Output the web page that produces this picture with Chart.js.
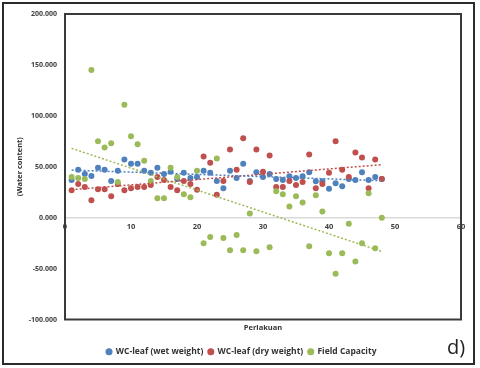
<!DOCTYPE html>
<html>
<head>
<meta charset="utf-8">
<script src="https://cdn.jsdelivr.net/npm/chart.js@4.4.1/dist/chart.umd.min.js"></script>
<style>
  html, body { margin: 0; padding: 0; background: #fff; }
</style>
</head>
<body>
<canvas id="chart" width="480" height="368"></canvas>
<script>
// Perlakuan (treatment number) for every sample
const perlakuan = [1, 2, 3, 4, 5, 6, 7, 8, 9, 10, 11, 12, 13, 14, 15, 16,
  17, 18, 19, 20, 21, 22, 23, 24, 25, 26, 27, 28, 29, 30, 31, 32,
  33, 34, 35, 36, 37, 38, 39, 40, 41, 42, 43, 44, 45, 46, 47, 48];

const wetWeight = [37, 47, 43, 41, 49, 47, 36, 46, 57, 53, 53, 46, 44, 49, 43, 45,
  38, 44, 39, 40, 46, 44, 36, 29, 46, 39, 53, 36, 44.5, 40, 43, 38,
  37, 40.6, 39, 40.6, 44.6, 35.7, 35.7, 28.5, 33.7, 30.8, 38, 37, 44.6, 37, 40, 38];

const dryWeight = [27, 33, 30, 17, 28, 28, 21, 33, 27, 29, 30, 30, 32, 40, 37, 30,
  27, 36, 33, 27.5, 60, 54, 22.6, 36, 67, 47, 78, 35, 67, 45, 61, 30,
  30, 36, 32, 35, 62, 29, 33, 44, 75, 47, 40, 64, 59, 29, 57, 38];

const fieldCapacity = [40, 39, 38, 145, 75, 69, 73, 35, 111, 80, 72, 56, 36, 19, 19, 49,
  40, 23, 20, 46, -25, -19, 58, -20, -32, -17, -32, 4, -33, null, -29, 26,
  23, 11, 21, 15, -28, 22, 6, -35, -55, -35, -6, -43, -25, 24, -30, 0];

const seriesNames = ["WC-leaf (wet weight)", "WC-leaf (dry weight)", "Field Capacity"];
const seriesColors = ["#4f81bd", "#c0504d", "#9bbb59"];
const xTicks = [0, 10, 20, 30, 40, 50, 60];
const yTicks = [-100, -50, 0, 50, 100, 150, 200];

const FONT = "'Open Sans', 'DejaVu Sans', sans-serif";

function toPoints(ys) {
  return perlakuan.map((x, i) => ({ x: x, y: ys[i] })).filter((p) => p.y !== null);
}

// linear least-squares trendline, like Excel's "Linear" trendline
function trendline(ys) {
  const pts = toPoints(ys);
  const n = pts.length;
  let sx = 0, sy = 0, sxx = 0, sxy = 0;
  pts.forEach((p) => { sx += p.x; sy += p.y; sxx += p.x * p.x; sxy += p.x * p.y; });
  const b = (n * sxy - sx * sy) / (n * sxx - sx * sx);
  const a = (sy - b * sx) / n;
  const x0 = pts[0].x, x1 = pts[n - 1].x;
  return [{ x: x0, y: a + b * x0 }, { x: x1, y: a + b * x1 }];
}

const allSeries = [wetWeight, dryWeight, fieldCapacity];

// later series sit on top, as in the original workbook
const datasets = allSeries.map((ys, i) => ({
  label: seriesNames[i],
  data: toPoints(ys),
  backgroundColor: seriesColors[i],
  borderColor: seriesColors[i],
  pointRadius: 3,
  pointBorderWidth: 0,
  order: 4 - i,
}));

allSeries.forEach((ys, i) => {
  datasets.push({
    label: seriesNames[i] + " trend",
    data: trendline(ys),
    showLine: true,
    borderColor: seriesColors[i],
    borderWidth: 1.5,
    borderDash: [2, 2],
    pointRadius: 0,
    order: 0,
  });
});

// frame round the plot, outer border, y title and the "d)" mark
const framePlugin = {
  id: "frame",
  afterDraw(chart) {
    const { ctx, chartArea: a } = chart;
    ctx.save();
    ctx.strokeStyle = "#3a3a3a";
    ctx.lineWidth = 2;
    ctx.strokeRect(a.left, a.top, a.right - a.left, a.bottom - a.top);
    ctx.strokeStyle = "#2b2b2b";
    ctx.strokeRect(3, 3, 471, 361);

    ctx.fillStyle = "#333";
    ctx.textAlign = "center";
    ctx.textBaseline = "middle";
    ctx.font = "bold 7.5px " + FONT;
    ctx.translate(20, (a.top + a.bottom) / 2);
    ctx.rotate(-Math.PI / 2);
    ctx.fillText("(Water content)", 0, 0);
    ctx.setTransform(1, 0, 0, 1, 0, 0);

    ctx.font = "20px " + FONT;
    ctx.fillStyle = "#222";
    ctx.fillText("d)", 456, 348);
    ctx.restore();
  },
};

new Chart(document.getElementById("chart"), {
  type: "scatter",
  data: { datasets },
  options: {
    responsive: false,
    animation: false,
    layout: { padding: { left: 22, top: 14, right: 19, bottom: 2 } },
    plugins: {
      tooltip: { enabled: false },
      title: {
        display: true,
        text: "Perlakuan",
        position: "bottom",
        fullSize: false,
        weight: 500,
        color: "#333",
        padding: { top: 3.5, bottom: 10.5 },
        font: { family: FONT, size: 7.5, weight: "bold" },
      },
      legend: {
        position: "bottom",
        labels: {
          filter: (item) => item.datasetIndex < 3,
          sort: (a, b) => a.datasetIndex - b.datasetIndex,
          usePointStyle: true,
          pointStyle: "circle",
          boxWidth: 5,
          boxHeight: 5,
          padding: 5,
          color: "#333",
          font: { family: FONT, size: 8.5, weight: "bold" },
        },
      },
    },
    scales: {
      x: {
        type: "linear",
        position: { y: 0 },
        min: 0,
        max: 60,
        afterBuildTicks: (s) => { s.ticks = xTicks.map((v) => ({ value: v })); },
        grid: { display: false, drawTicks: false },
        border: { color: "#d9d9d9", width: 1.5 },
        ticks: {
          padding: 5,
          color: "#404040",
          font: { family: FONT, size: 7.5, weight: "bold" },
        },
      },
      y: {
        type: "linear",
        min: -100,
        max: 200,
        afterBuildTicks: (s) => { s.ticks = yTicks.map((v) => ({ value: v })); },
        afterFit: (s) => { s.width = 43; },
        grid: { display: false, drawTicks: false },
        border: { display: false },
        ticks: {
          padding: 8,
          color: "#404040",
          callback: (v) => v.toFixed(3),
          font: { family: FONT, size: 7, weight: "bold" },
        },
      },
    },
  },
  plugins: [framePlugin],
});
</script>
</body>
</html>
